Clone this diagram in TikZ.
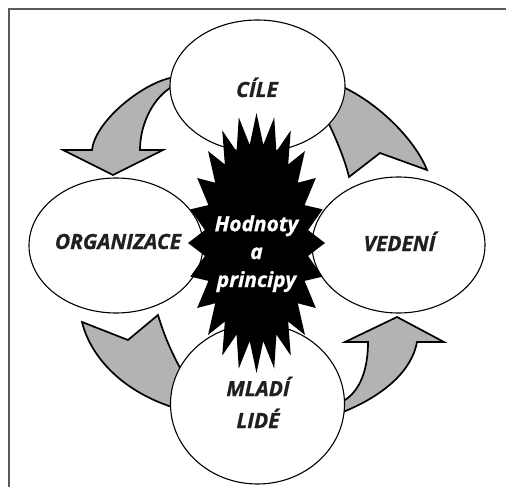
\documentclass[tikz,border=0pt]{standalone}
\usepackage{fontspec}
\setmainfont{Open Sans}[BoldItalicFeatures={FakeBold=0.8}]
\usetikzlibrary{shapes.geometric}
\definecolor{ink}{HTML}{231F20}
\definecolor{arrowgray}{HTML}{B3B3B3}
\definecolor{framegray}{HTML}{5A5A5A}
\begin{document}
\begin{tikzpicture}[x=1bp,y=-1bp,
  oval/.style={ellipse, draw=black, line width=1.1bp, fill=white, inner sep=0pt},
  cyclearrow/.style={fill=arrowgray, draw=black, line width=1.7bp, line join=miter},
  lbl/.style={font=\fontsize{21}{32}\selectfont\bfseries\itshape, text=ink, align=center, inner sep=0pt},
  core/.style={font=\fontsize{21}{28}\selectfont\bfseries\itshape, text=white, align=center, inner sep=0pt},
  frame/.style={draw=framegray, line width=1.5bp}]
\useasboundingbox (0,0) rectangle (506,487);

% page frame (top and left rules)
\draw[frame] (9,487) -- (9,9) -- (506,9);

% curved arrows of the cycle
% CILE -> ORGANIZACE
\draw[cyclearrow] (180,84) -- (170,78) .. controls (140,85) and (95,122) .. (92,150)
  -- (63,150) -- (113,175) -- (163,150) -- (140,150)
  .. controls (140,125) and (152,100) .. (170,88) -- (180,88) -- cycle;
% ORGANIZACE -> MLADI LIDE
\draw[cyclearrow] (82,322) -- (128,340) -- (158,315)
  .. controls (164,335) and (172,355) .. (188,382) -- (182,410)
  -- (172,407) .. controls (120,390) and (90,355) .. (82,322) -- cycle;
% MLADI LIDE -> VEDENI
\draw[cyclearrow] (335,414) -- (343,412) .. controls (385,395) and (412,370) .. (417,342)
  -- (444,342) -- (397,317) -- (345,342) -- (368,342)
  .. controls (368,370) and (360,390) .. (345,400) -- (335,404) -- cycle;
% VEDENI -> CILE
\draw[cyclearrow] (335,86) -- (345,88) .. controls (380,105) and (415,140) .. (427,170)
  -- (380,153) -- (349,177) .. controls (345,160) and (336,138) .. (326,118) -- cycle;

% the four areas
\node[oval, minimum width=175bp, minimum height=132bp] (cile) at (257.5,86) {};
\node[oval, minimum width=174bp, minimum height=135bp] (org) at (116,245.5) {};
\node[oval, minimum width=173bp, minimum height=136bp] (ved) at (398.5,245) {};
\node[oval, minimum width=174bp, minimum height=160bp] (mladi) at (257.5,404) {};

% central 24-point star
\fill[black] plot[samples=49, domain=0:48, variable=\k]
  ({256.5 + ifthenelse(mod(round(\k),2)==0, 68.5, 52)*cos(90+7.5*round(\k))},
   {243 - ifthenelse(mod(round(\k),2)==0, 130, 99)*sin(90+7.5*round(\k))}) -- cycle;

% labels
\node[lbl, anchor=base] (tcile) at (257,97) {CÍLE};
\node[lbl, anchor=base] (torg) at (118,249) {ORGANIZACE};
\node[lbl, anchor=base] (tved) at (399.5,251) {VEDENÍ};
\node[lbl, anchor=base] (tmladi) at (258,428) {MLADÍ\\LIDÉ};
\node[core, anchor=base] (tcore) at (256.5,287) {Hodnoty\\a\\principy};
\end{tikzpicture}
\end{document}
